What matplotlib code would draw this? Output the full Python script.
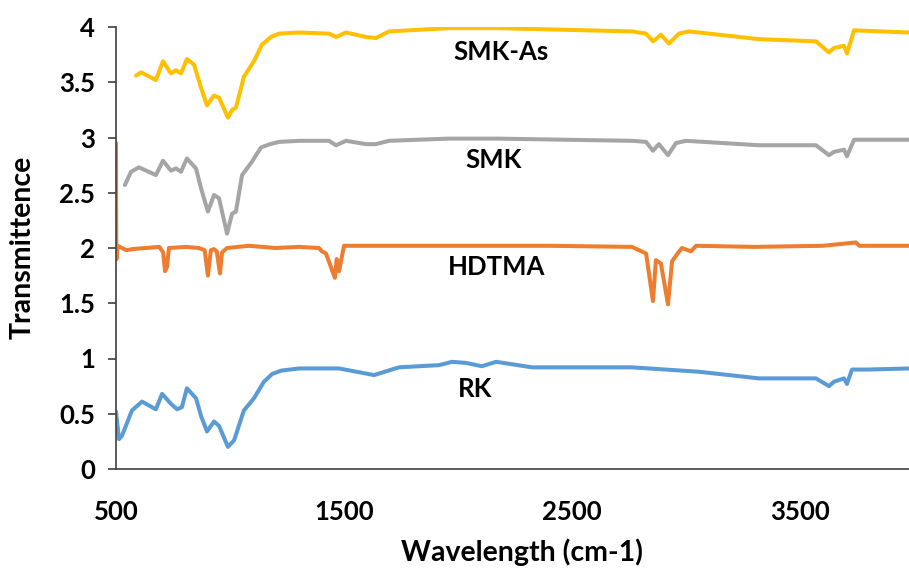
import matplotlib
matplotlib.use("Agg")
import matplotlib.pyplot as plt

plt.rcParams['font.family'] = ['Lato', 'DejaVu Sans']
plt.rcParams['font.weight'] = 'bold'

# RK (raw kaolin)
rk_x = [500, 513, 526, 570, 614, 675, 702, 741, 768, 789, 811, 851, 873, 899, 930, 952,
        991, 1018, 1061, 1105, 1149, 1185, 1224, 1303, 1478, 1632, 1741, 1917, 1974, 2035, 2105,
        2167, 2325, 2390, 2763, 3057, 3320, 3570, 3627, 3649, 3693, 3706, 3728, 3800, 3980]
rk_y = [0.52, 0.27, 0.30, 0.53, 0.61, 0.54, 0.68, 0.59, 0.54, 0.56, 0.73, 0.64, 0.48, 0.34, 0.43, 0.39,
        0.20, 0.26, 0.53, 0.64, 0.79, 0.86, 0.89, 0.91, 0.91, 0.85, 0.92, 0.94, 0.97, 0.96, 0.93,
        0.97, 0.92, 0.92, 0.92, 0.88, 0.82, 0.82, 0.75, 0.79, 0.82, 0.77, 0.90, 0.90, 0.91]

# HDTMA
hd_x = [500, 501, 503, 507, 546, 572, 690, 707, 715, 724, 732, 806, 863, 889, 903, 916, 929, 942,
        956, 965, 987, 1083, 1200, 1303, 1390, 1403, 1421, 1460, 1468, 1478, 1500, 1700, 2000,
        2400, 2763, 2825, 2855, 2868, 2890, 2921, 2939, 2956, 2982, 3022, 3044, 3300, 3600,
        3745, 3760, 3980]
hd_y = [2.95, 2.04, 1.90, 2.02, 1.98, 1.99, 2.01, 1.96, 1.79, 1.83, 2.00, 2.01, 2.00, 1.98, 1.75, 1.98,
        1.99, 1.97, 1.77, 1.96, 2.00, 2.02, 2.00, 2.01, 2.00, 1.97, 1.95, 1.73, 1.90, 1.79, 2.02, 2.02, 2.02,
        2.02, 2.01, 1.95, 1.52, 1.89, 1.86, 1.49, 1.88, 1.93, 2.00, 1.97, 2.02, 2.01, 2.02,
        2.05, 2.02, 2.02]

# SMK
smk_x = [539, 566, 601, 675, 706, 741, 763, 785, 811, 851, 873, 903, 930, 952, 987, 1009, 1026,
         1053, 1096, 1136, 1175, 1215, 1303, 1434, 1465, 1509, 1596, 1640, 1697, 1961, 2167, 2763,
         2825, 2855, 2881, 2921, 2956, 3000, 3320, 3570, 3627, 3649, 3693, 3706, 3737, 3980]
smk_y = [2.57, 2.69, 2.73, 2.66, 2.79, 2.70, 2.72, 2.69, 2.81, 2.72, 2.54, 2.33, 2.48, 2.45, 2.13, 2.31, 2.33,
         2.66, 2.78, 2.91, 2.94, 2.96, 2.97, 2.97, 2.93, 2.97, 2.94, 2.94, 2.97, 2.99, 2.99, 2.97,
         2.96, 2.88, 2.94, 2.84, 2.95, 2.97, 2.93, 2.93, 2.84, 2.87, 2.89, 2.83, 2.98, 2.98]

# SMK-As
sas_x = [588, 610, 675, 706, 741, 763, 785, 811, 842, 873, 899, 930, 952, 991, 1009, 1026,
         1061, 1105, 1140, 1180, 1215, 1303, 1434, 1465, 1509, 1596, 1640, 1697, 1961, 2167, 2763,
         2825, 2855, 2890, 2925, 2969, 3013, 3320, 3570, 3627, 3649, 3693, 3706, 3737, 3980]
sas_y = [3.56, 3.59, 3.52, 3.69, 3.58, 3.61, 3.58, 3.71, 3.66, 3.45, 3.29, 3.38, 3.36, 3.18, 3.25, 3.27,
         3.55, 3.69, 3.84, 3.91, 3.94, 3.95, 3.94, 3.91, 3.95, 3.91, 3.90, 3.96, 3.99, 3.99, 3.96,
         3.94, 3.87, 3.93, 3.85, 3.94, 3.96, 3.89, 3.87, 3.77, 3.81, 3.83, 3.76, 3.97, 3.95]

series = [
    (rk_x, rk_y, "#5B9BD5", "RK", 2075, 0.65),
    (hd_x, hd_y, "#ED7D31", "HDTMA", 2167, 1.756),
    (smk_x, smk_y, "#A5A5A5", "SMK", 2154, 2.72),
    (sas_x, sas_y, "#FFC000", "SMK-As", 2189, 3.70),
]

x_ticks = [500, 1500, 2500, 3500]
y_ticks = [0, 0.5, 1, 1.5, 2, 2.5, 3, 3.5, 4]
y_tick_labels = ["0", "0.5", "1", "1.5", "2", "2.5", "3", "3.5", "4"]

fig = plt.figure(figsize=(9.09, 5.69), dpi=100)
ax = fig.add_axes([116/909, 100/569, 798/909, 442/569])

for xs, ys, color, name, tx, ty in series:
    ax.plot(xs, ys, color=color, linewidth=2.9, solid_joinstyle='round', solid_capstyle='round')
    ax.text(tx, ty, name, fontsize=18.5, fontweight='bold', ha='center', va='baseline', color='black')

ax.set_xlim(500, 4000)
ax.set_ylim(0, 4)
ax.set_xticks(x_ticks)
ax.set_yticks(y_ticks)
ax.set_yticklabels(y_tick_labels)
for s in ['top', 'right']:
    ax.spines[s].set_visible(False)
for s in ['left', 'bottom']:
    ax.spines[s].set_color('#404040')
    ax.spines[s].set_linewidth(1.2)
ax.tick_params(axis='y', direction='out', length=6, width=1.2, color='#404040', pad=9, labelsize=18.5)
ax.tick_params(axis='x', length=0, pad=22, labelsize=18.5)

fig.text(522/909, 1 - 552/569, "Wavelength (cm-1)", fontsize=20.5, fontweight='bold', ha='center', va='center')
fig.text(23/909, 1 - 247/569, "Transmittence", fontsize=20.5, fontweight='bold', ha='center', va='center', rotation=90)

fig.savefig("out.png", dpi=100, facecolor='white')
